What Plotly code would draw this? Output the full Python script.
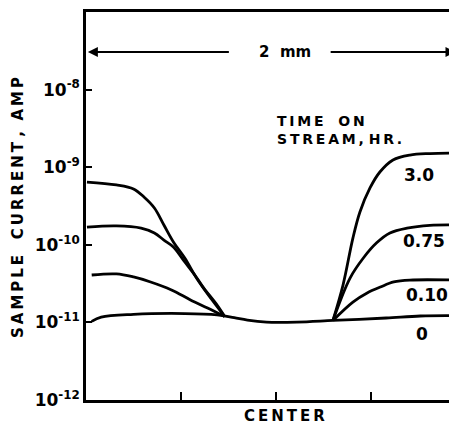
import math
import plotly.graph_objects as go

# ---- data (x in mm from the center, current in amperes) ----
x_t0 = [-0.97, -0.92, -0.75, -0.48, -0.31, -0.22, -0.15, -0.05, 0.11, 0.30, 0.58, 0.76, 0.95]
y_t0 = [1.03e-11, 1.17e-11, 1.27e-11, 1.30e-11, 1.25e-11, 1.15e-11, 1.07e-11, 1.01e-11, 1.01e-11,
        1.06e-11, 1.14e-11, 1.21e-11, 1.22e-11]

x_t010_left = [-0.97, -0.84, -0.75, -0.66, -0.55, -0.45, -0.36, -0.27]
y_t010_left = [4.08e-11, 4.21e-11, 3.85e-11, 3.32e-11, 2.62e-11, 1.95e-11, 1.53e-11, 1.19e-11]
x_t010_right = [0.30, 0.405, 0.48, 0.55, 0.62, 0.705, 0.95]
y_t010_right = [1.06e-11, 1.83e-11, 2.40e-11, 2.86e-11, 3.32e-11, 3.51e-11, 3.51e-11]

x_t075_left = [-0.995, -0.84, -0.71, -0.64, -0.59, -0.54, -0.48, -0.42, -0.38, -0.31, -0.27]
y_t075_left = [1.69e-10, 1.75e-10, 1.64e-10, 1.42e-10, 1.15e-10, 9.38e-11, 6.00e-11, 3.85e-11,
               2.77e-11, 1.67e-11, 1.19e-11]
x_t075_right = [0.30, 0.39, 0.46, 0.53, 0.60, 0.69, 0.81, 0.95]
y_t075_right = [1.06e-11, 3.73e-11, 6.76e-11, 1.06e-10, 1.42e-10, 1.64e-10, 1.78e-10, 1.80e-10]

x_t30_left = [-0.995, -0.84, -0.75, -0.695, -0.64, -0.59, -0.54, -0.48, -0.415, -0.34, -0.27]
y_t30_left = [6.44e-10, 5.90e-10, 5.24e-10, 4.13e-10, 2.98e-10, 1.80e-10, 1.09e-10, 6.76e-11,
              3.62e-11, 2.00e-11, 1.19e-11]
x_t30_right = [0.30, 0.353, 0.405, 0.442, 0.495, 0.547, 0.616, 0.705, 0.811, 0.953]
y_t30_right = [1.06e-11, 3.03e-11, 1.22e-10, 2.65e-10, 5.40e-10, 8.67e-10, 1.24e-09, 1.435e-09,
               1.50e-09, 1.52e-09]

series_labels = ["3.0", "0.75", "0.10", "0"]
label_x = [0.755, 0.78, 0.795, 0.77]
label_y = [7.9e-10, 1.12e-10, 2.25e-11, 7.1e-12]

y_tickvals = [1e-12, 1e-11, 1e-10, 1e-9, 1e-8]
y_ticktext = ["10<sup>-12</sup>", "10<sup>-11</sup>", "10<sup>-10</sup>", "10<sup>-9</sup>", "10<sup>-8</sup>"]
x_tickvals = [-0.5, 0.0, 0.5]

FONT = "DejaVu Sans, Arial, sans-serif"
TS = "\u2009"  # thin space used as letter spacing
line = dict(color="black", width=2.8, shape="spline", smoothing=1.0)

fig = go.Figure()
segments = [
    (x_t0, y_t0),
    (x_t010_left, y_t010_left), (x_t010_right, y_t010_right),
    (x_t075_left, y_t075_left), (x_t075_right, y_t075_right),
    (x_t30_left, y_t30_left), (x_t30_right, y_t30_right),
]
for xs, ys in segments:
    fig.add_trace(go.Scatter(x=xs, y=ys, mode="lines", line=line, showlegend=False, hoverinfo="skip"))


def txt(s, spaced=False):
    if spaced:
        s = " ".join(TS.join(w) for w in s.split(" "))
    return "<b>" + s + "</b>"


annotations = []
for t, lx, ly in zip(series_labels, label_x, label_y):
    annotations.append(dict(x=lx, y=math.log10(ly), xref="x", yref="y", text=txt(t),
                            xanchor="center", yanchor="middle",
                            showarrow=False, font=dict(family=FONT, size=17, color="black")))

arrow_y = -7.515
PW, PH = 371.0, 388.0  # plot area size in px
annotations += [
    dict(x=0.05, y=arrow_y, xref="x", yref="y", text=txt("2  mm"), showarrow=False,
         xanchor="center", yanchor="middle", font=dict(family=FONT, size=15, color="black")),
    dict(x=-0.99, y=arrow_y, ax=-0.24, ay=arrow_y, xref="x", yref="y", axref="x", ayref="y",
         text="", showarrow=True, arrowhead=2, arrowsize=1.0, arrowwidth=2, arrowcolor="black"),
    dict(x=0.945, y=arrow_y, ax=0.28, ay=arrow_y, xref="x", yref="y", axref="x", ayref="y",
         text="", showarrow=True, arrowhead=2, arrowsize=1.0, arrowwidth=2, arrowcolor="black"),
    dict(x=(275 - 86) / PW, y=(400 - 130) / PH, xref="paper", yref="paper",
         text=txt("TIME", True) + "<b>   </b>" + txt("ON", True) + "<br>" + txt("STREAM, HR.", True),
         align="left", xanchor="left", yanchor="middle",
         showarrow=False, font=dict(family=FONT, size=14, color="black")),
    dict(x=(284 - 86) / PW, y=(400 - 416) / PH, xref="paper", yref="paper",
         text=txt("CENTER", True), xanchor="center", yanchor="middle",
         showarrow=False, font=dict(family=FONT, size=15, color="black")),
    dict(x=(18 - 86) / PW, y=(400 - 208) / PH, xref="paper", yref="paper",
         text=txt("SAMPLE   CURRENT ,  AMP", True), textangle=-90, showarrow=False,
         xanchor="center", yanchor="middle",
         font=dict(family=FONT, size=15, color="black")),
]

# the page body has an 8 px margin, so the figure is shifted by 8 px
fig.update_layout(
    width=449, height=416,
    margin=dict(l=78, r=0, t=4, b=24),
    paper_bgcolor="white", plot_bgcolor="white",
    annotations=annotations,
    xaxis=dict(range=[-1.0, 0.953], showgrid=False, zeroline=False, showline=True, linecolor="black",
               linewidth=2.5, mirror=True, ticks="inside", ticklen=8, tickwidth=2, tickcolor="black",
               tickvals=x_tickvals, showticklabels=False),
    yaxis=dict(type="log", range=[-12, -7], showgrid=False, zeroline=False, showline=True,
               linecolor="black", linewidth=2.5, ticks="inside", ticklen=6, tickwidth=2,
               tickcolor="black", tickvals=y_tickvals, ticktext=[txt(t) for t in y_ticktext],
               tickfont=dict(family=FONT, size=17, color="black"), automargin=False),
)

fig.write_html("out.html")
